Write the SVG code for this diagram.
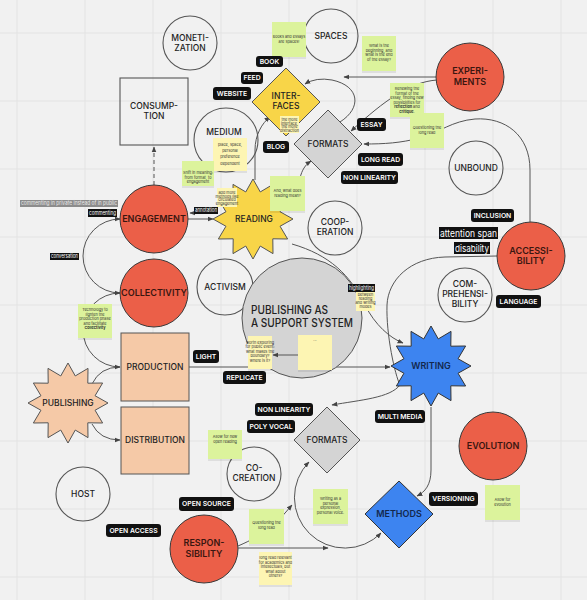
<svg xmlns="http://www.w3.org/2000/svg" width="587" height="600" viewBox="0 0 587 600">
<style>
text{font-family:Inter,"Noto Sans","Liberation Sans",sans-serif}
.wc{fill:none;stroke:#555;stroke-width:1.1}
.red{fill:#eb5f48;stroke:#3a3a3a;stroke-width:1}
.lbl{font-size:8.5px;fill:#222;text-anchor:middle;font-weight:500}
.rl{font-size:9px;fill:#3a1610;text-anchor:middle;font-weight:600}
.tag rect{fill:#111}
.tag text{fill:#fff;font-size:6.8px;font-weight:600;text-anchor:middle}
.hl rect{fill:#111}
.hl text{fill:#fff;font-size:5.6px}
.g{fill:#dcf39c}
.y{fill:#fdf5b3}
.sh{fill:#000;opacity:.08}
.st{font-size:3.8px;fill:#333;text-anchor:middle}
.ln{fill:none;stroke:#555;stroke-width:1}
.grid{stroke:#e3e3e3;stroke-width:1}
</style>
<defs>
<marker id="ar" viewBox="0 0 10 10" refX="9" refY="5" markerWidth="6" markerHeight="6" orient="auto-start-reverse" markerUnits="userSpaceOnUse">
<path d="M0,1 L10,5 L0,9 z" fill="#444"/>
</marker>
<polygon id="star" points="0,-40 7.25,-27.05 20,-34.64 19.8,-19.8 34.64,-20 27.05,-7.25 40,0 27.05,7.25 34.64,20 19.8,19.8 20,34.64 7.25,27.05 0,40 -7.25,27.05 -20,34.64 -19.8,19.8 -34.64,20 -27.05,7.25 -40,0 -27.05,-7.25 -34.64,-20 -19.8,-19.8 -20,-34.64 -7.25,-27.05"/>
</defs>
<rect width="587" height="600" fill="#f1f1f1"/>
<g class="grid">
<line x1="17" y1="0" x2="17" y2="600"/><line x1="85" y1="0" x2="85" y2="600"/><line x1="153" y1="0" x2="153" y2="600"/><line x1="221" y1="0" x2="221" y2="600"/><line x1="289" y1="0" x2="289" y2="600"/><line x1="357" y1="0" x2="357" y2="600"/><line x1="425" y1="0" x2="425" y2="600"/><line x1="493" y1="0" x2="493" y2="600"/><line x1="561" y1="0" x2="561" y2="600"/>
<line x1="0" y1="33" x2="587" y2="33"/><line x1="0" y1="101" x2="587" y2="101"/><line x1="0" y1="169" x2="587" y2="169"/><line x1="0" y1="237" x2="587" y2="237"/><line x1="0" y1="305" x2="587" y2="305"/><line x1="0" y1="373" x2="587" y2="373"/><line x1="0" y1="441" x2="587" y2="441"/><line x1="0" y1="509" x2="587" y2="509"/><line x1="0" y1="577" x2="587" y2="577"/>
</g>

<g id="connectors">
<path class="ln" d="M154,185 L154,147" stroke-dasharray="4,3" marker-end="url(#ar)"/>
<path class="ln" d="M120,293 A37,37 0 0 1 120,219" marker-end="url(#ar)"/>
<path class="ln" d="M120,367 A37,37 0 0 1 120,293" marker-end="url(#ar)"/>
<path class="ln" d="M92,384 Q100,367 120,367" marker-end="url(#ar)"/>
<path class="ln" d="M92,424 Q100,440 120,440" marker-end="url(#ar)"/>
<path class="ln" d="M189,367 L390,367" marker-end="url(#ar)"/>
<path class="ln" d="M188,219 L213,219" marker-end="url(#ar)"/>
<path class="ln" d="M214,213 L190,213" marker-end="url(#ar)"/>
<path class="ln" d="M255,180 L255,150 C255,135 262,123 270,117" marker-end="url(#ar)"/>
<path class="ln" d="M300,178 C302,170 305,165 311,161" marker-end="url(#ar)"/>
<path class="ln" d="M340,122 C362,108 360,86 332,80 Q316,77 305,84" marker-end="url(#ar)"/>
<path class="ln" d="M437,77 L344,77" marker-end="url(#ar)"/>
<path class="ln" d="M437,80 C410,82 385,100 351,131" marker-end="url(#ar)"/>
<path class="ln" d="M530,222 L530,170 C530,135 505,117 475,119 C452,121 440,132 420,138 C400,143 385,144 364,144" marker-end="url(#ar)"/>
<path class="ln" d="M292,244 C330,255 350,275 365,305 C375,325 390,338 403,343" marker-end="url(#ar)"/>
<path class="ln" d="M497,256 L445,257 C410,258 388,280 387,305 C386,335 395,375 400,385 C390,398 360,400 332,405" marker-end="url(#ar)"/>
<path class="ln" d="M431,407 L431,470 C431,485 425,492 417,496" marker-end="url(#ar)"/>
<path class="ln" d="M309,462 A50,50 0 1 0 381,533" marker-end="url(#ar)" marker-start="url(#ar)"/>
<path class="ln" d="M238,546 C252,540 262,534 272,528 L292,505" marker-end="url(#ar)"/>
<path class="ln" d="M238,548 L328,548" marker-end="url(#ar)"/>
</g>

<g id="monetization"><circle class="wc" cx="190" cy="43" r="27"/><text class="lbl" x="190" y="41">MONETI-</text><text class="lbl" x="190" y="51">ZATION</text></g>
<g id="consumption"><rect class="wc" x="120" y="78" width="68" height="67"/><text class="lbl" x="154" y="109">CONSUMP-</text><text class="lbl" x="154" y="119">TION</text></g>
<g id="spaces"><circle class="wc" cx="331" cy="36" r="27"/><text class="lbl" x="331" y="39">SPACES</text></g>
<g id="medium"><circle class="wc" cx="226" cy="140" r="32"/><text class="lbl" x="224" y="135">MEDIUM</text></g>
<g id="unbound"><circle class="wc" cx="476" cy="168" r="27"/><text class="lbl" x="476" y="171">UNBOUND</text></g>
<g id="cooperation"><circle class="wc" cx="335" cy="228" r="27"/><text class="lbl" x="335" y="225">COOP-</text><text class="lbl" x="335" y="235">ERATION</text></g>
<g id="activism"><circle class="wc" cx="225" cy="287" r="28"/><text class="lbl" x="225" y="290">ACTIVISM</text></g>
<g id="comprehensibility"><circle class="wc" cx="465" cy="295" r="27"/><text class="lbl" x="465" y="287">COM-</text><text class="lbl" x="465" y="297">PREHENSI-</text><text class="lbl" x="465" y="307">BILITY</text></g>
<g id="host"><circle class="wc" cx="83" cy="494" r="27"/><text class="lbl" x="83" y="497">HOST</text></g>
<g id="cocreation"><circle class="wc" cx="254" cy="474" r="27"/><text class="lbl" x="254" y="471">CO-</text><text class="lbl" x="254" y="481">CREATION</text></g>

<g id="support-system"><circle cx="302" cy="318" r="60" fill="#d4d4d4" stroke="#555" stroke-width="1"/>
<text x="251" y="314" font-size="11.5" fill="#222" font-weight="500" textLength="77" lengthAdjust="spacingAndGlyphs">PUBLISHING AS</text>
<text x="251" y="327" font-size="11.5" fill="#222" font-weight="500" textLength="102" lengthAdjust="spacingAndGlyphs">A SUPPORT SYSTEM</text></g>

<g id="experiments"><circle class="red" cx="470" cy="77" r="34"/><text class="rl" x="470" y="74">EXPERI-</text><text class="rl" x="470" y="85">MENTS</text></g>
<g id="engagement"><circle class="red" cx="154" cy="219" r="34"/><text class="rl" x="154" y="222">ENGAGEMENT</text></g>
<g id="collectivity"><circle class="red" cx="154" cy="293" r="34"/><text class="rl" x="154" y="296">COLLECTIVITY</text></g>
<g id="accessibility"><circle class="red" cx="531" cy="256" r="34"/><text class="rl" x="531" y="254">ACCESSI-</text><text class="rl" x="531" y="264">BILITY</text></g>
<g id="evolution"><circle class="red" cx="493" cy="446" r="34"/><text class="rl" x="493" y="449">EVOLUTION</text></g>
<g id="responsibility"><circle class="red" cx="204" cy="549" r="34"/><text class="rl" x="204" y="546">RESPON-</text><text class="rl" x="204" y="557">SIBILITY</text></g>

<g id="production"><rect x="121" y="333" width="68" height="68" fill="#f5c9a7" stroke="#555"/><text class="lbl" x="155" y="370" font-size="9">PRODUCTION</text></g>
<g id="distribution"><rect x="121" y="407" width="68" height="67" fill="#f5c9a7" stroke="#555"/><text class="lbl" x="155" y="443" font-size="9">DISTRIBUTION</text></g>
<g id="publishing"><use href="#star" x="68" y="403" fill="#f5c9a7" stroke="#555"/><text class="lbl" x="68" y="406" font-size="9">PUBLISHING</text></g>
<g id="reading"><use href="#star" x="253" y="219" fill="#f8d548" stroke="#555"/><text class="lbl" x="254" y="222" font-size="9">READING</text></g>
<g id="writing"><use href="#star" x="431" y="366" fill="#3d84f0" stroke="#333"/><text x="431" y="369" font-size="9" fill="#13284d" text-anchor="middle" font-weight="600">WRITING</text></g>

<g id="interfaces"><polygon points="286,68 320,102 286,136 252,102" fill="#f8d548" stroke="#555"/><text class="lbl" x="286" y="99" font-size="9">INTER-</text><text class="lbl" x="286" y="109" font-size="9">FACES</text></g>
<g id="formats-top"><polygon points="328,110 362,144 328,178 294,144" fill="#d4d4d4" stroke="#555"/><text class="lbl" x="328" y="147" font-size="9">FORMATS</text></g>
<g id="formats-bottom"><polygon points="327,407 360,440 327,473 294,440" fill="#d4d4d4" stroke="#555"/><text class="lbl" x="327" y="443" font-size="9">FORMATS</text></g>
<g id="methods"><polygon points="399,481 433,514 399,548 365,514" fill="#3d84f0" stroke="#333"/><text x="399" y="517" font-size="9" fill="#13284d" text-anchor="middle" font-weight="600">METHODS</text></g>

<g id="stickies">
<rect class="sh" x="272" y="24" width="34" height="35"/><rect class="g" x="272" y="22" width="34" height="35"/><text class="st"><tspan x="289" y="38">Books and essays</tspan><tspan x="289" y="42.5">are spaces!</tspan></text>
<rect class="sh" x="362" y="38" width="34" height="35"/><rect class="g" x="362" y="36" width="34" height="35"/><text class="st"><tspan x="379" y="47">What is the</tspan><tspan x="379" y="51.5">beginning, and</tspan><tspan x="379" y="56">what is the end</tspan><tspan x="379" y="60.5">of the essay?</tspan></text>
<rect class="sh" x="390" y="85" width="34" height="34"/><rect class="g" x="390" y="83" width="34" height="34"/><text class="st"><tspan x="407" y="90">Renewing the</tspan><tspan x="407" y="94.5">format of the</tspan><tspan x="407" y="99">essay, finding new</tspan><tspan x="407" y="103.5">possibilities for</tspan><tspan x="407" y="108" font-weight="700">reflection <tspan font-weight="400">and</tspan></tspan><tspan x="407" y="112.5" font-weight="700">critique<tspan font-weight="400">.</tspan></tspan></text>
<rect class="sh" x="410" y="115" width="34" height="35"/><rect class="g" x="410" y="113" width="34" height="35"/><text class="st"><tspan x="427" y="129">Questioning the</tspan><tspan x="427" y="133.5">long read</tspan></text>
<rect class="y" x="280" y="116" width="19" height="17"/><text class="st" font-size="2.8"><tspan x="289.5" y="121">the more</tspan><tspan x="289.5" y="124.5">interface,</tspan><tspan x="289.5" y="128">the more</tspan><tspan x="289.5" y="131.5">distraction</tspan></text>
<rect class="sh" x="213" y="140" width="34" height="33"/><rect class="y" x="213" y="138" width="34" height="33"/><text class="st" font-size="5.2"><tspan x="230" y="146">place, space,</tspan><tspan x="230" y="152">personal</tspan><tspan x="230" y="158">preference</tspan><tspan x="230" y="164.5">dependent</tspan></text>
<rect class="sh" x="182" y="163" width="32" height="25"/><rect class="g" x="182" y="161" width="32" height="25"/><text class="st"><tspan x="198" y="174">Shift in meaning:</tspan><tspan x="198" y="178.5">from format, to</tspan><tspan x="198" y="183">engagement</tspan></text>
<rect class="y" x="217" y="188" width="20" height="19"/><text class="st" font-size="2.8"><tspan x="227" y="194">add more</tspan><tspan x="227" y="197.5">methods like</tspan><tspan x="227" y="201">circulated</tspan><tspan x="227" y="204.5">engagement</tspan></text>
<rect class="sh" x="270" y="178" width="35" height="35"/><rect class="g" x="270" y="176" width="35" height="35"/><text class="st"><tspan x="287.5" y="192">And, what does</tspan><tspan x="287.5" y="196.5">reading mean?</tspan></text>
<rect class="y" x="356" y="292" width="19" height="19"/><text class="st" font-size="3"><tspan x="365.5" y="296">between</tspan><tspan x="365.5" y="300">reading</tspan><tspan x="365.5" y="304">and writing</tspan><tspan x="365.5" y="308">modes</tspan></text>
<rect class="sh" x="78" y="306" width="34" height="34"/><rect class="g" x="78" y="304" width="34" height="34"/><text class="st"><tspan x="95" y="311">Technology to</tspan><tspan x="95" y="315.5">lighten the</tspan><tspan x="95" y="320">production phase</tspan><tspan x="95" y="324.5">and facilitate</tspan><tspan x="95" y="329" font-weight="700">Collectivity</tspan></text>
<rect class="sh" x="248" y="338" width="24" height="33"/><rect class="y" x="248" y="336" width="24" height="33"/><text class="st" font-size="3.4"><tspan x="260" y="343.5">worth exploring</tspan><tspan x="260" y="348">for public event:</tspan><tspan x="260" y="352.5">what makes the</tspan><tspan x="260" y="357">boundary?</tspan><tspan x="260" y="361.5">where is it?</tspan></text>
<rect class="sh" x="298" y="337" width="34" height="35"/><rect class="y" x="298" y="335" width="34" height="35"/><text class="st" font-size="2.5"><tspan x="315" y="341">...</tspan></text>
<path class="ln" d="M298,355 L273,355" marker-end="url(#ar)"/>
<rect class="sh" x="208" y="432" width="34" height="29"/><rect class="g" x="208" y="430" width="34" height="29"/><text class="st"><tspan x="225" y="438">Allow for new</tspan><tspan x="225" y="442.5">open reading</tspan></text>
<rect class="sh" x="249" y="511" width="35" height="35"/><rect class="g" x="249" y="509" width="35" height="35"/><text class="st"><tspan x="266.5" y="524">Questioning the</tspan><tspan x="266.5" y="528.5">long read</tspan></text>
<rect class="sh" x="313" y="491" width="35" height="35"/><rect class="g" x="313" y="489" width="35" height="35"/><text class="st"><tspan x="330.5" y="500">Writing as a</tspan><tspan x="330.5" y="504.5">personal</tspan><tspan x="330.5" y="509">expression,</tspan><tspan x="330.5" y="513.5">personal voice.</tspan></text>
<rect class="sh" x="259" y="554" width="33" height="33"/><rect class="y" x="259" y="552" width="33" height="33"/><text class="st"><tspan x="275.5" y="559">long read relevant</tspan><tspan x="275.5" y="563.5">for academics and</tspan><tspan x="275.5" y="568">intellectuals, but</tspan><tspan x="275.5" y="572.5">what about</tspan><tspan x="275.5" y="577">others?</tspan></text>
<rect class="sh" x="485" y="487" width="35" height="35"/><rect class="g" x="485" y="485" width="35" height="35"/><text class="st"><tspan x="502.5" y="501">Allow for</tspan><tspan x="502.5" y="505.5">evolution</tspan></text>
</g>

<g id="tags">
<g class="tag"><rect x="256" y="56" width="27" height="11" rx="3"/><text x="269.5" y="63.8">BOOK</text></g>
<g class="tag"><rect x="241" y="72" width="22" height="12" rx="3"/><text x="252" y="80.4">FEED</text></g>
<g class="tag"><rect x="213" y="87" width="38" height="13" rx="3"/><text x="232" y="95.9">WEBSITE</text></g>
<g class="tag"><rect x="263" y="141" width="26" height="12" rx="3"/><text x="276" y="149.4">BLOG</text></g>
<g class="tag"><rect x="357" y="118" width="29" height="13" rx="3"/><text x="371.5" y="126.9">ESSAY</text></g>
<g class="tag"><rect x="358" y="153" width="45" height="13" rx="3"/><text x="380.5" y="161.9">LONG READ</text></g>
<g class="tag"><rect x="341" y="171" width="57" height="13" rx="3"/><text x="369.5" y="179.9">NON LINEARITY</text></g>
<g class="tag"><rect x="471" y="209" width="43" height="13" rx="3"/><text x="492.5" y="217.9">INCLUSION</text></g>
<g class="tag"><rect x="496" y="295" width="45" height="13" rx="3"/><text x="518.5" y="303.9">LANGUAGE</text></g>
<g class="tag"><rect x="193" y="350" width="26" height="13" rx="3"/><text x="206" y="358.9">LIGHT</text></g>
<g class="tag"><rect x="223" y="371" width="43" height="13" rx="3"/><text x="244.5" y="379.9">REPLICATE</text></g>
<g class="tag"><rect x="255" y="403" width="58" height="13" rx="3"/><text x="284" y="411.9">NON LINEARITY</text></g>
<g class="tag"><rect x="247" y="420" width="48" height="13" rx="3"/><text x="271" y="428.9">POLY VOCAL</text></g>
<g class="tag"><rect x="375" y="410" width="50" height="13" rx="3"/><text x="400" y="418.9">MULTI MEDIA</text></g>
<g class="tag"><rect x="429" y="492" width="49" height="14" rx="3"/><text x="453.5" y="501.4">VERSIONING</text></g>
<g class="tag"><rect x="179" y="497" width="55" height="14" rx="3"/><text x="206.5" y="506.4">OPEN SOURCE</text></g>
<g class="tag"><rect x="106" y="524" width="55" height="13" rx="3"/><text x="133.5" y="532.9">OPEN ACCESS</text></g>
</g>

<g id="highlights">
<g class="hl"><rect x="20" y="200" width="98" height="7" style="fill:#8c8c8c"/><text x="21" y="205.2" style="fill:#e8e8e8" textLength="96" lengthAdjust="spacingAndGlyphs">commenting in private instead of in public</text></g>
<g class="hl"><rect x="88" y="209" width="29" height="8"/><text x="89" y="214.8" textLength="27" lengthAdjust="spacingAndGlyphs">commenting</text></g>
<g class="hl"><rect x="50" y="253" width="29" height="7"/><text x="51" y="258.2" textLength="27" lengthAdjust="spacingAndGlyphs">conversation</text></g>
<g class="hl"><rect x="194" y="207" width="24" height="7"/><text x="195" y="212.2" textLength="22" lengthAdjust="spacingAndGlyphs">annotation</text></g>
<g class="hl"><rect x="348" y="284" width="27" height="8"/><text x="349" y="289.8" textLength="25" lengthAdjust="spacingAndGlyphs">highlighting</text></g>
<g class="hl"><rect x="439" y="227" width="59" height="12"/><text x="440" y="236.5" style="font-size:9.5px" textLength="57" lengthAdjust="spacingAndGlyphs">attention span</text></g>
<g class="hl"><rect x="454" y="242" width="36" height="12"/><text x="455" y="251.5" style="font-size:9.5px" textLength="34" lengthAdjust="spacingAndGlyphs">disability</text></g>
</g>
</svg>
